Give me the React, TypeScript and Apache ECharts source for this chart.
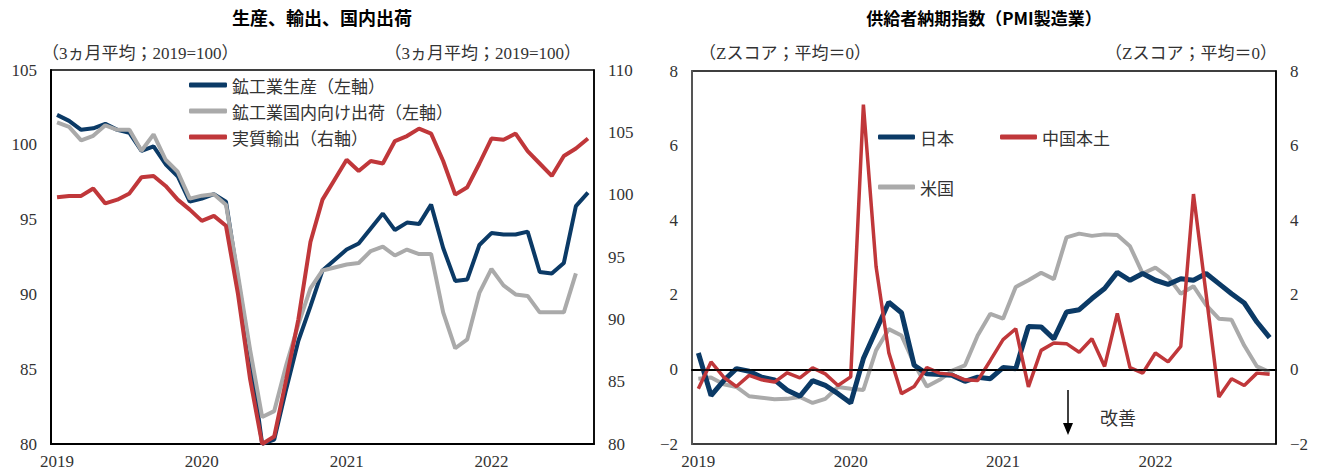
import React, { useEffect, useRef } from "react";
import * as echarts from "echarts";

// ---------- data ----------
const leftYears = ["2019", "2020", "2021", "2022"];
const leftMonthCount = 45; // 2019-01 .. 2022-09
const rightMonthCount = 46; // 2019-01 .. 2022-10

const production = [
  102.0, 101.6, 101.0, 101.1, 101.4, 101.0, 100.8, 99.6, 99.9, 98.7, 97.9, 96.2,
  96.4, 96.7, 96.2, 91.0, 86.0, 80.0, 80.3, 83.7, 86.9, 89.2, 91.6, 92.3,
  93.0, 93.4, 94.4, 95.4, 94.3, 94.8, 94.7, 96.0, 93.1, 90.9, 91.0, 93.3,
  94.1, 94.0, 94.0, 94.2, 91.5, 91.4, 92.1, 95.9, 96.8,
];
const domesticShipments = [
  101.5, 101.2, 100.3, 100.6, 101.3, 101.0, 101.0, 99.6, 100.7, 99.0, 98.2, 96.4,
  96.6, 96.7, 96.0, 91.3, 86.3, 81.8, 82.2, 85.3, 88.0, 90.4, 91.6, 91.8,
  92.0, 92.1, 92.9, 93.2, 92.6, 93.0, 92.7, 92.7, 88.8, 86.4, 87.0, 90.1,
  91.7, 90.6, 90.0, 89.9, 88.8, 88.8, 88.8, 91.4,
];
const realExports = [
  99.8, 99.9, 99.9, 100.5, 99.3, 99.6, 100.1, 101.4, 101.5, 100.7, 99.6, 98.8,
  97.9, 98.3, 97.5, 92.0, 85.2, 80.0, 80.6, 85.2, 90.0, 96.2, 99.6, 101.2,
  102.8, 101.9, 102.7, 102.5, 104.3, 104.7, 105.3, 104.9, 102.7, 100.0, 100.6, 102.5,
  104.5, 104.4, 104.9, 103.5, 102.5, 101.5, 103.1, 103.7, 104.5,
];

const japan = [
  0.44, -0.7, -0.3, 0.02, -0.05, -0.21, -0.28, -0.56, -0.72, -0.3, -0.43, -0.65,
  -0.9, 0.29, 1.05, 1.8, 1.52, 0.11, -0.12, -0.14, -0.16, -0.32, -0.21, -0.25,
  0.05, 0.02, 1.15, 1.14, 0.82, 1.54, 1.6, 1.9, 2.17, 2.6, 2.39, 2.57,
  2.39, 2.28, 2.43, 2.39, 2.57, 2.3, 2.03, 1.78, 1.27, 0.85,
];
const china = [
  -0.52, 0.2, -0.21, -0.46, -0.16, -0.28, -0.34, -0.09, -0.23, 0.04, -0.12, -0.43,
  -0.2, 7.1, 2.75, 0.45, -0.65, -0.46, 0.05, -0.1, -0.14, -0.28, -0.3, 0.24,
  0.8, 1.09, -0.47, 0.51, 0.71, 0.69, 0.46, 0.82, 0.08, 1.5, 0.05, -0.1,
  0.44, 0.2, 0.62, 4.7, 2.0, -0.74, -0.25, -0.43, -0.1, -0.13,
];
const usa = [
  -0.25, -0.22, -0.4, -0.47, -0.72, -0.76, -0.8, -0.79, -0.74, -0.9, -0.79, -0.47,
  -0.52, -0.55, 0.51, 1.08, 0.91, 0.15, -0.46, -0.28, -0.03, 0.11, 0.91, 1.49,
  1.36, 2.21, 2.39, 2.59, 2.42, 3.54, 3.64, 3.58, 3.62, 3.6, 3.3, 2.57,
  2.73, 2.48, 2.03, 2.23, 1.72, 1.36, 1.33, 0.64, 0.08, -0.07,
];

const leftTicks = { min: 80, max: 105, interval: 5 };
const leftRightTicks = { min: 80, max: 110, interval: 5 };
const rightTicks = { min: -2, max: 8, interval: 2 };

function monthCategories(count: number): string[] {
  const out: string[] = [];
  for (let i = 0; i < count; i++) {
    const y = leftYears[Math.floor(i / 12)] ?? String(2019 + Math.floor(i / 12));
    const m = (i % 12) + 1;
    out.push(`${y}-${m < 10 ? "0" + m : m}`);
  }
  return out;
}
const leftCategories = monthCategories(leftMonthCount);
const rightCategories = monthCategories(rightMonthCount);

// ---------- styles ----------
const BLUE = "#0b3a66";
const RED = "#c0373a";
const GRAY = "#aaaaaa";
const SERIF = '"Liberation Serif", "DejaVu Serif", serif';
const JP = '"Noto Sans CJK JP", sans-serif';
const MIX = '"Liberation Serif", "Noto Sans CJK JP", serif';

const axisLabelY = {
  fontFamily: SERIF,
  fontSize: 17,
  color: "#333",
  margin: 14,
  formatter: (v: number) => String(v).replace("-", "−"),
};

function xAxisFor(gridIndex: number, data: string[], lineColor: string) {
  return {
    type: "category",
    gridIndex,
    data,
    boundaryGap: true,
    axisLine: { show: true, lineStyle: { color: lineColor, width: 2 } },
    axisTick: { show: false },
    splitLine: { show: false },
    axisLabel: {
      interval: (index: number) => index % 12 === 0,
      formatter: (v: string) => v.slice(0, 4),
      fontFamily: SERIF,
      fontSize: 17,
      color: "#333",
      margin: 9,
    },
  };
}

export default function App() {
  const ref = useRef<HTMLDivElement>(null);

  useEffect(() => {
    if (!ref.current) return;
    const chart = echarts.init(ref.current, null, { renderer: "svg" });

    const legendText = { fontFamily: JP, fontSize: 17, color: "#333", lineHeight: 20 };

    chart.setOption({
      animation: false,
      backgroundColor: "#fff",
      grid: [
        { left: 51, top: 70, width: 543, height: 374, show: true, borderColor: "#000", borderWidth: 1.5 },
        { left: 692, top: 71, width: 584, height: 373, show: true, borderColor: "#000", borderWidth: 1.5 },
      ],
      xAxis: [xAxisFor(0, leftCategories, "#000"), xAxisFor(1, rightCategories, "#000")],
      yAxis: [
        {
          type: "value", gridIndex: 0, position: "left", ...leftTicks,
          axisLine: { show: true, lineStyle: { color: "#000", width: 2 } },
          axisTick: { show: false }, splitLine: { show: false }, axisLabel: axisLabelY,
        },
        {
          type: "value", gridIndex: 0, position: "right", ...leftRightTicks,
          axisLine: { show: true, lineStyle: { color: "#000", width: 1.5 } },
          axisTick: { show: false }, splitLine: { show: false }, axisLabel: axisLabelY,
        },
        {
          type: "value", gridIndex: 1, position: "left", ...rightTicks,
          axisLine: { show: true, lineStyle: { color: "#555", width: 2 } },
          axisTick: { show: false }, splitLine: { show: false }, axisLabel: axisLabelY,
        },
        {
          type: "value", gridIndex: 1, position: "right", ...rightTicks,
          axisLine: { show: true, lineStyle: { color: "#000", width: 1.5 } },
          axisTick: { show: false }, splitLine: { show: false }, axisLabel: axisLabelY,
        },
      ],
      legend: [
        {
          orient: "vertical", left: 184, top: 70, itemWidth: 38, itemHeight: 5, itemGap: 6,
          icon: "roundRect", textStyle: legendText,
          data: ["鉱工業生産（左軸）", "鉱工業国内向け出荷（左軸）", "実質輸出（右軸）"],
        },
        { left: 873, top: 122, itemWidth: 37, itemHeight: 5, icon: "roundRect", textStyle: legendText, data: ["日本"] },
        { left: 995, top: 122, itemWidth: 37, itemHeight: 5, icon: "roundRect", textStyle: legendText, data: ["中国本土"] },
        { left: 873, top: 172, itemWidth: 37, itemHeight: 5, icon: "roundRect", textStyle: legendText, data: ["米国"] },
      ],
      series: [
        {
          name: "鉱工業生産（左軸）", type: "line", xAxisIndex: 0, yAxisIndex: 0, data: production,
          showSymbol: false, symbol: "none", color: BLUE, lineStyle: { color: BLUE, width: 4 },
        },
        {
          name: "鉱工業国内向け出荷（左軸）", type: "line", xAxisIndex: 0, yAxisIndex: 0, data: domesticShipments,
          showSymbol: false, symbol: "none", color: GRAY, lineStyle: { color: GRAY, width: 4 },
        },
        {
          name: "実質輸出（右軸）", type: "line", xAxisIndex: 0, yAxisIndex: 1, data: realExports,
          showSymbol: false, symbol: "none", color: RED, lineStyle: { color: RED, width: 4 },
        },
        {
          name: "米国", type: "line", xAxisIndex: 1, yAxisIndex: 2, data: usa,
          showSymbol: false, symbol: "none", color: GRAY, lineStyle: { color: GRAY, width: 4 },
          markLine: {
            silent: true, symbol: ["none", "none"], label: { show: false },
            lineStyle: { color: "#000", width: 1.5, type: "solid" },
            data: [{ yAxis: 0 }],
          },
        },
        {
          name: "日本", type: "line", xAxisIndex: 1, yAxisIndex: 2, data: japan,
          showSymbol: false, symbol: "none", color: BLUE, lineStyle: { color: BLUE, width: 5 },
        },
        {
          name: "中国本土", type: "line", xAxisIndex: 1, yAxisIndex: 2, data: china,
          showSymbol: false, symbol: "none", color: RED, lineStyle: { color: RED, width: 3.5 },
        },
      ],
      graphic: [
        {
          type: "text", x: 322, y: 17,
          style: {
            text: "生産、輸出、国内出荷", align: "center", verticalAlign: "middle",
            textAlign: "center", textVerticalAlign: "middle",
            fontFamily: JP, fontSize: 18, fontWeight: "bold", fill: "#000",
          },
        },
        {
          type: "text", x: 984, y: 17,
          style: {
            text: "供給者納期指数（PMI製造業）", align: "center", verticalAlign: "middle",
            textAlign: "center", textVerticalAlign: "middle",
            fontFamily: JP, fontSize: 17, fontWeight: "bold", fill: "#000",
          },
        },
        {
          type: "text", x: 42, y: 53,
          style: { text: "（3ヵ月平均；2019=100）", verticalAlign: "middle", textVerticalAlign: "middle", fontFamily: MIX, fontSize: 17, fill: "#333" },
        },
        {
          type: "text", x: 581, y: 53,
          style: { text: "（3ヵ月平均；2019=100）", align: "right", textAlign: "right", verticalAlign: "middle", textVerticalAlign: "middle", fontFamily: MIX, fontSize: 17, fill: "#333" },
        },
        {
          type: "text", x: 699, y: 53,
          style: { text: "（Zスコア；平均＝0）", verticalAlign: "middle", textVerticalAlign: "middle", fontFamily: MIX, fontSize: 17, fill: "#333" },
        },
        {
          type: "text", x: 1277, y: 53,
          style: { text: "（Zスコア；平均＝0）", align: "right", textAlign: "right", verticalAlign: "middle", textVerticalAlign: "middle", fontFamily: MIX, fontSize: 17, fill: "#333" },
        },
        {
          type: "text", x: 1100, y: 417,
          style: { text: "改善", verticalAlign: "middle", textVerticalAlign: "middle", fontFamily: JP, fontSize: 18, fill: "#333" },
        },
        {
          type: "line", shape: { x1: 1068, y1: 390, x2: 1068, y2: 426 },
          style: { stroke: "#000", lineWidth: 1.5 },
        },
        {
          type: "polygon", shape: { points: [[1063, 423], [1073, 423], [1068, 435]] },
          style: { fill: "#000" },
        },
      ],
    });

    return () => chart.dispose();
  }, []);

  return (
    <div
      ref={ref}
      style={{ position: "absolute", left: 0, top: 0, width: 1317, height: 476, background: "#fff" }}
    />
  );
}
